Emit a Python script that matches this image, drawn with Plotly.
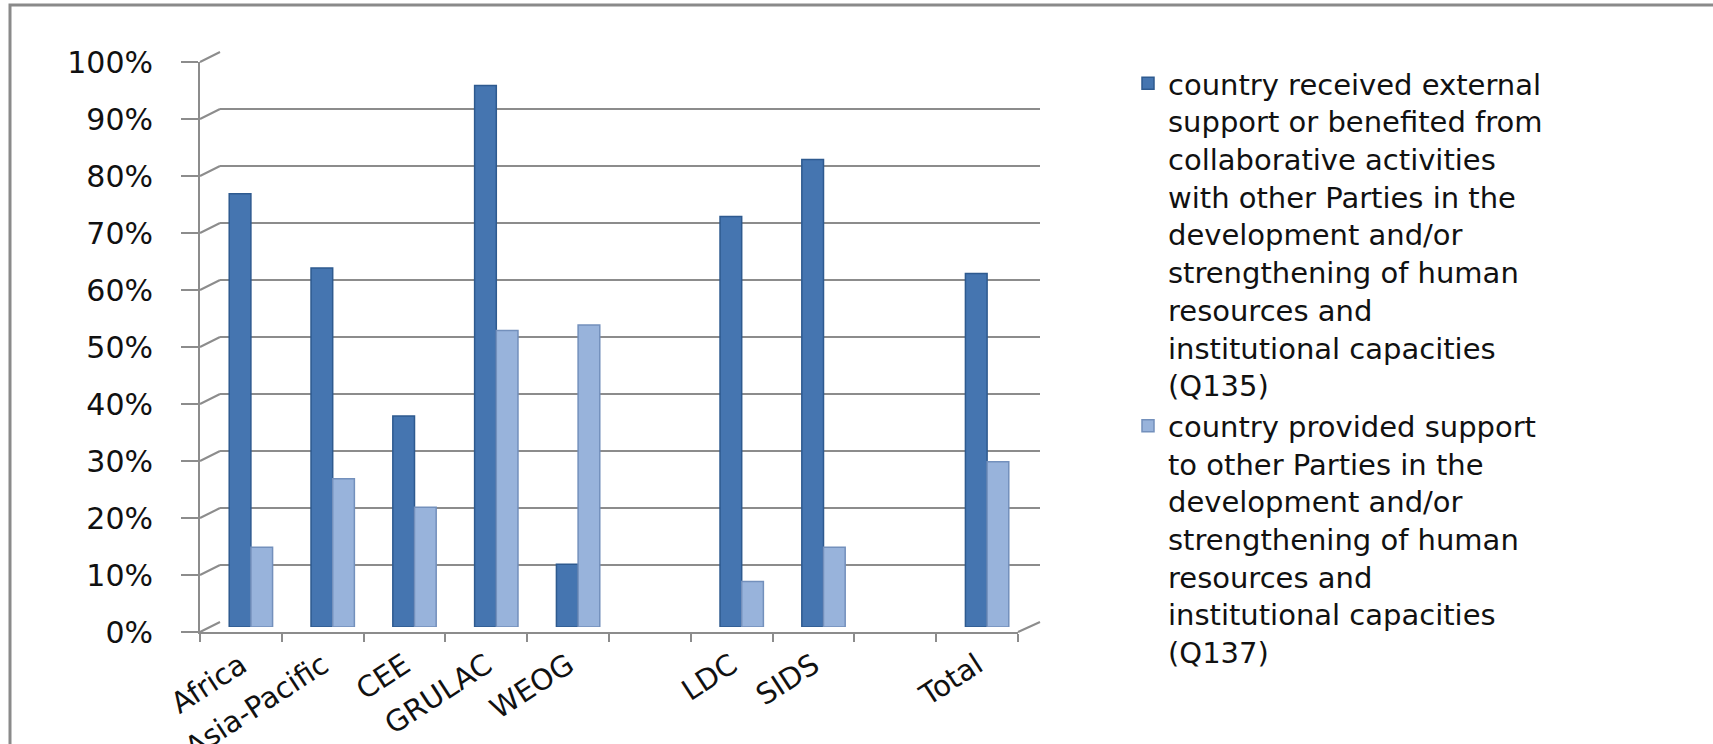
import plotly.graph_objects as go

# Survey results by regional group (share of responding Parties)
categories = ["Africa", "Asia-Pacific", "CEE", "GRULAC", "WEOG", "", "LDC", "SIDS", "", "Total"]
received_support = [76, 63, 37, 95, 11, None, 72, 82, None, 62]
provided_support = [14, 26, 21, 52, 53, None, 8, 14, None, 29]
y_ticks = list(range(0, 101, 10))
y_tick_labels = [f"{v}%" for v in y_ticks]

series_names = [
    "country received external<br>support or benefited from<br>collaborative activities<br>"
    "with other Parties in the<br>development and/or<br>strengthening of human<br>"
    "resources and<br>institutional capacities<br>(Q135)",
    "country provided support<br>to other Parties in the<br>development and/or<br>"
    "strengthening of human<br>resources and<br>institutional capacities<br>(Q137)",
]

W, H = 1713, 744
FONT = "DejaVu Sans"
GRID = "#8c8c8c"
TEXT = "#111111"


def fx(px):
    return px / W


def fy(py):
    return 1 - py / H


positions = list(range(len(categories)))

# three stacked planes: back wall (gridlines), bar plane, front axis plane
back_x = [fx(220), fx(1040)]
back_y = [fy(622), fy(52)]
bar_x = [fx(210), fx(1028)]
bar_y = [fy(627), fy(57)]
front_x = [fx(200), fx(1018)]
front_y = [fy(632), fy(62)]

fig = go.Figure()
# empty traces so the back-wall and front-axis planes get rendered
fig.add_trace(go.Scatter(x=[], y=[], xaxis="x", yaxis="y",
                         showlegend=False, hoverinfo="skip"))
fig.add_trace(go.Bar(
    x=positions, y=received_support, name=series_names[0],
    marker=dict(color="#4575B0", line=dict(color="#2E5A8F", width=1.5)),
    xaxis="x2", yaxis="y2",
))
fig.add_trace(go.Bar(
    x=positions, y=provided_support, name=series_names[1],
    marker=dict(color="#98B3DB", line=dict(color="#7390BC", width=1.5)),
    xaxis="x2", yaxis="y2",
))
fig.add_trace(go.Scatter(x=[], y=[], xaxis="x3", yaxis="y3",
                         showlegend=False, hoverinfo="skip"))

# connectors from front axis ticks to the back wall gridlines
shapes = []
for v in y_ticks:
    yf = front_y[0] + (front_y[1] - front_y[0]) * v / 100
    yb = back_y[0] + (back_y[1] - back_y[0]) * v / 100
    shapes.append(dict(type="line", xref="paper", yref="paper",
                       x0=front_x[0], y0=yf, x1=back_x[0], y1=yb,
                       line=dict(color=GRID, width=2), layer="below"))
shapes.append(dict(type="line", xref="paper", yref="paper",
                   x0=front_x[1], y0=front_y[0], x1=back_x[1], y1=back_y[0],
                   line=dict(color=GRID, width=2), layer="below"))
# chart frame
shapes.append(dict(type="rect", xref="paper", yref="paper",
                   x0=fx(10), y0=fy(5), x1=1.02, y1=-0.05,
                   line=dict(color="#8a8a8a", width=3), layer="below"))

fig.update_layout(
    template="none",
    width=W, height=H,
    margin=dict(l=0, r=0, t=0, b=0),
    paper_bgcolor="white", plot_bgcolor="rgba(0,0,0,0)",
    font=dict(family=FONT, color=TEXT),
    barmode="group", bargap=0.47, bargroupgap=0,
    showlegend=True,
    legend=dict(
        x=fx(1128), xanchor="left", y=fy(58), yanchor="top",
        font=dict(family=FONT, size=29, color=TEXT),
        valign="top", bgcolor="rgba(0,0,0,0)", traceorder="normal",
    ),
    xaxis=dict(domain=back_x, anchor="y", range=[0, 1], visible=False),
    yaxis=dict(domain=back_y, anchor="x", range=[0, 100], tickvals=y_ticks,
               showgrid=True, gridcolor=GRID, gridwidth=2, zeroline=False,
               showticklabels=False, ticks="", showline=False),
    xaxis2=dict(domain=bar_x, anchor="y2", range=[-0.5, len(categories) - 0.5],
                visible=False),
    yaxis2=dict(domain=bar_y, anchor="x2", range=[0, 100], visible=False),
    xaxis3=dict(domain=front_x, anchor="y3", range=[-0.5, len(categories) - 0.5],
                tickvals=positions, ticktext=categories, ticks="",
                tickangle=-33, tickfont=dict(family=FONT, size=29, color=TEXT),
                ticklabelstandoff=3,
                showline=True, linecolor=GRID, linewidth=2, showgrid=False,
                zeroline=False, automargin=False,
                minor=dict(ticks="outside", tick0=-0.5, dtick=1, ticklen=8,
                           tickcolor=GRID, tickwidth=2, showgrid=False)),
    yaxis3=dict(domain=front_y, anchor="x3", range=[0, 100], tickvals=y_ticks,
                ticktext=y_tick_labels, ticks="outside", ticklen=17, tickwidth=2,
                tickcolor=GRID, showline=True, linecolor=GRID, linewidth=2,
                showgrid=False, zeroline=False, automargin=False,
                ticklabelstandoff=22,
                tickfont=dict(family=FONT, size=30, color=TEXT)),
    shapes=shapes,
)

fig.write_html("out.html")
